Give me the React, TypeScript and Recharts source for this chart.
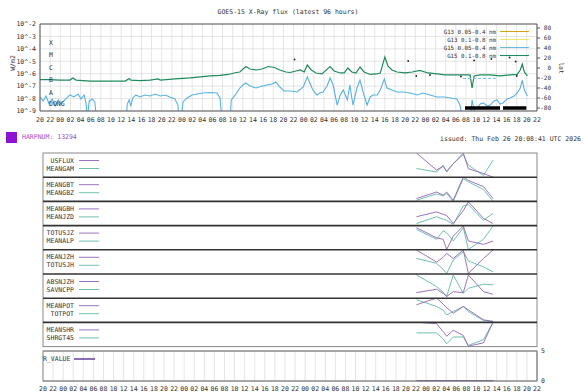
import React from 'react';
import { ComposedChart, LineChart, Line, Scatter, XAxis, YAxis, CartesianGrid } from 'recharts';

const MONO = '"DejaVu Sans Mono", monospace';
const TXT = '#333';

// ---------- shared time axis (hours since 20 UT, day 1) ----------
const xTickLabels = [
  '20', '22',
  '00', '02', '04', '06', '08', '10', '12', '14', '16', '18', '20', '22',
  '00', '02', '04', '06', '08', '10', '12', '14', '16', '18', '20', '22',
  '00', '02', '04', '06', '08', '10', '12', '14', '16', '18', '20', '22',
  '00', '02', '04', '06', '08', '10', '12', '14', '16', '18', '20', '22',
];
const evenTicks = xTickLabels.map((_, i) => i * 2);
const hourTicks = Array.from({ length: 99 }, (_, i) => i);

// ---------- GOES panel ----------
const fluxTicks = [-9, -8, -7, -6, -5, -4, -3, -2];
const fluxTickLabels = ['10^-9', '10^-8', '10^-7', '10^-6', '10^-5', '10^-4', '10^-3', '10^-2'];
const latTicks = [-80, -60, -40, -20, 0, 20, 40, 60, 80];

// G15 0.1-0.8 nm (log10 W/m2)
const longT = [0, 2.0, 3.9, 5.9, 6.5, 7.1, 9.9, 13.8, 16.8, 17.6, 17.9, 19.7, 21.7, 23.3, 23.7, 26.6, 29.6, 31.6, 33.5, 35.5, 37.1, 38.7, 39.4, 40.6, 41.4, 42.6, 43.8, 45.0, 46.2, 47.3, 48.5, 49.3, 50.5, 51.3, 52.1, 52.7, 53.5, 54.4, 55.6, 57.2, 58.0, 59.2, 60.0, 60.7, 61.5, 62.3, 63.1, 63.9, 65.1, 66.3, 67.1, 68.0, 68.6, 69.4, 70.4, 72.0, 73.4, 74.9, 76.5, 78.3, 79.9, 81.9, 83.8, 84.8, 85.2, 85.6, 86.8, 88.8, 90.7, 92.7, 94.1, 94.7, 95.1, 95.5, 96.1];
const longLog = [-6.47, -6.47, -6.51, -6.51, -6.34, -6.51, -6.59, -6.59, -6.59, -6.38, -6.51, -6.55, -6.51, -6.42, -6.51, -6.42, -6.34, -6.26, -6.18, -6.14, -6.06, -5.90, -5.86, -5.42, -5.62, -5.70, -5.62, -5.42, -5.50, -5.70, -5.86, -5.90, -5.78, -5.70, -5.86, -5.30, -5.70, -5.94, -6.02, -5.42, -5.78, -5.94, -5.94, -5.54, -5.86, -5.94, -5.46, -5.86, -6.06, -6.02, -5.94, -4.65, -5.38, -5.70, -5.86, -5.94, -5.86, -5.74, -5.94, -6.02, -6.10, -6.10, -6.10, -6.10, -7.15, -6.18, -6.10, -6.10, -6.18, -6.10, -6.06, -5.70, -5.22, -5.86, -6.18];

// G15 0.05-0.4 nm (log10 W/m2), -9.8 = below the axis
const shortT = [0, 0.6, 1.2, 1.8, 2.4, 3.0, 3.6, 4.1, 4.7, 5.3, 5.9, 6.7, 7.5, 8.1, 8.7, 9.1, 9.3, 9.7, 10.3, 10.8, 11.2, 17.0, 17.2, 17.6, 17.9, 18.3, 18.9, 19.7, 20.7, 21.7, 22.7, 23.7, 24.7, 25.6, 26.6, 27.2, 27.4, 27.8, 28.2, 29.0, 30.0, 31.0, 32.1, 33.5, 34.9, 35.5, 35.9, 37.5, 37.7, 38.5, 39.4, 40.0, 40.6, 41.4, 42.6, 43.8, 44.8, 45.8, 46.5, 47.3, 48.1, 49.3, 50.7, 51.9, 52.7, 53.3, 53.8, 54.6, 55.2, 55.8, 56.6, 57.2, 57.8, 58.6, 59.2, 59.8, 60.6, 61.1, 61.7, 62.5, 63.1, 63.7, 64.5, 65.1, 65.7, 66.5, 67.1, 67.9, 68.4, 69.4, 70.4, 71.6, 73.0, 74.4, 75.5, 76.9, 78.3, 79.7, 80.9, 82.2, 82.8, 83.4, 84.8, 85.2, 85.6, 86.2, 86.8, 87.4, 88.2, 88.8, 89.5, 90.1, 90.7, 91.3, 92.1, 92.7, 93.5, 94.1, 94.7, 95.1, 95.5, 96.1];
const shortLog = [-7.87, -8.19, -7.79, -8.44, -8.03, -8.60, -8.11, -8.44, -8.19, -7.95, -7.71, -7.87, -7.63, -8.03, -7.71, -8.44, -9.8, -8.19, -8.03, -8.27, -9.8, -9.8, -8.44, -8.11, -8.60, -7.95, -7.71, -7.87, -7.71, -7.79, -7.63, -7.79, -7.71, -7.87, -8.03, -8.52, -9.8, -9.8, -8.27, -7.95, -7.71, -7.63, -7.55, -7.51, -7.55, -7.95, -9.8, -9.8, -8.11, -7.71, -7.15, -6.91, -6.75, -6.99, -7.15, -6.99, -6.91, -6.83, -6.67, -7.07, -7.39, -7.39, -7.47, -7.07, -6.26, -6.83, -7.31, -7.71, -7.55, -7.47, -6.99, -6.34, -6.91, -8.52, -7.71, -7.31, -8.11, -6.91, -8.52, -7.15, -6.51, -7.47, -8.52, -7.87, -7.71, -7.71, -7.31, -6.42, -7.15, -7.31, -7.47, -7.47, -7.55, -7.71, -7.55, -7.71, -7.87, -7.87, -7.95, -8.03, -8.52, -9.8, -9.8, -8.11, -8.92, -8.76, -8.44, -8.35, -8.60, -8.52, -8.19, -8.11, -8.44, -8.35, -8.03, -7.95, -7.79, -7.55, -7.15, -6.51, -7.31, -7.79];

// flare latitude markers
const flareT = [50.2, 72.6, 74.2, 76.9, 83.0, 85.6, 89.0, 92.6, 93.8, 94.0];
const flareLat = [17, 14, -16, -14, -17, 15, 18, 21, 13, -16];
// light-blue dashed segment (lat)
const dashT = [83.4, 90.1];
const dashLat = [-21, -21];
// black bars at the bottom (lat)
const barT = [83.8, 90.7, 91.0, 91.3, 95.9];
const barLat: (number | null)[] = [-80, -80, null, -80, -80];

const classLetters = ['X', 'M', 'C', 'B', 'A', 'DONG'];
const classLevels = [-3.5, -4.5, -5.5, -6.5, -7.5, -8.4];

const goesLegend = ['G13 0.05-0.4 nm', 'G13 0.1-0.8 nm', 'G15 0.05-0.4 nm', 'G15 0.1-0.8 nm'];
const goesColors = ['#d6a21a', '#f2e36a', '#6bb8e2', '#1f8a5c'];

// ---------- SHARP parameter panels ----------
const panelT = [74.1, 78.1, 79.4, 80.1, 81.4, 83.4, 84.4, 87.4, 89.3];
const panelNamesA = ['USFLUX', 'MEANGBT', 'MEANGBH', 'TOTUSJZ', 'MEANJZH', 'ABSNJZH', 'MEANPOT', 'MEANSHR'];
const panelNamesB = ['MEANGAM', 'MEANGBZ', 'MEANJZD', 'MEANALP', 'TOTUSJH', 'SAVNCPP', 'TOTPOT', 'SHRGT45'];
const usflux = [1.0, 0.29, 0.45, 0.25, 0.55, 1.0, 0.35, 0.15, 0.0];
const meangam = [0.36, 0.21, 0.5, 0.21, 0.57, 0.93, 0.5, 0.07, 0.71];
const meangbt = [0.11, 0.38, 0.25, 0.38, 0.04, 1.0, 0.86, 0.6, 0.11];
const meangbz = [0.04, 0.3, 0.22, 0.32, 0.0, 0.93, 0.8, 0.48, 0.0];
const meangbh = [0.35, 0.55, 0.45, 0.4, 0.07, 0.6, 0.97, 0.28, 0.07];
const meanjzd = [0.07, 0.35, 0.25, 0.2, 0.03, 0.8, 0.85, 0.2, 0.49];
const totusjz = [0.93, 0.51, 0.45, 0.03, 0.58, 1.0, 0.38, 0.24, 0.38];
const meanalp = [0.86, 0.45, 0.8, 0.72, 0.38, 0.93, 0.03, 0.45, 1.0];
const meanjzh = [1.0, 0.5, 0.7, 0.86, 0.65, 1.0, 0.03, 0.65, 1.0];
const totusjh = [0.65, 0.45, 0.2, 0.03, 0.58, 0.93, 0.55, 0.3, 0.1];
const absnjzh = [0.23, 0.37, 0.2, 0.07, 0.27, 0.23, 0.96, 0.27, 0.16];
const savncpp = [0.96, 0.48, 0.25, 0.07, 0.96, 0.2, 0.41, 0.58, 0.55];
const meanpot = [0.72, 1.0, 0.75, 0.6, 0.37, 0.65, 0.51, 0.1, 0.03];
const totpot = [0.93, 0.65, 0.5, 0.3, 0.44, 0.65, 0.44, 0.07, 0.03];
const meanshr = [0.99, 0.93, 0.6, 0.41, 0.66, 0.44, 0.0, 0.14, 0.99];
const shrgt45 = [0.55, 0.55, 0.3, 0.1, 0.38, 0.38, 0.03, 0.27, 0.99];
const rValue = [0.06, 0.06, 0.06, 0.06, 0.06, 0.06, 0.06, 0.06, 0.06];
const rTicks = [0, 5];

const seriesA = [usflux, meangbt, meangbh, totusjz, meanjzh, absnjzh, meanpot, meanshr];
const seriesB = [meangam, meangbz, meanjzd, meanalp, totusjh, savncpp, totpot, shrgt45];

const PURPLE = '#9263b8';
const TEAL = '#5fbaa6';
const RCOL = '#4d1f8c';

// ---------- built tables ----------
const longData = longT.map((t, i) => ({ t, v: longLog[i] }));
const shortData = shortT.map((t, i) => ({ t, v: shortLog[i] }));
const flareData = flareT.map((t, i) => ({ t, lat: flareLat[i] }));
const dashData = dashT.map((t, i) => ({ t, lat: dashLat[i] }));
const barData = barT.map((t, i) => ({ t, lat: barLat[i] }));
const panelRows = seriesA.map((a, k) => panelT.map((t, i) => ({ t, a: a[i], b: seriesB[k][i] })));
const rRows = panelT.map((t, i) => ({ t, r: rValue[i] }));

// layout
const PANEL_TOP = 153;
const PANEL_H = 24.2;
const PL = 43;
const PR = 537;

const tickStyle = { fontSize: 6.5, fontFamily: MONO, fill: TXT };

const LatTick = (props: any) => (
  <text x={props.x + 11} y={props.y} dy="0.35em" textAnchor="end" fontSize={6} fontFamily={MONO} fill={TXT}>
    {props.payload.value}
  </text>
);

const FlareDot = (props: any) => <circle cx={props.cx} cy={props.cy} r={0.9} fill="#222" />;

const abs = (top: number): React.CSSProperties => ({ position: 'absolute', left: 0, top });

export default function App() {
  return (
    <div style={{ position: 'absolute', left: 0, top: 0, width: 588, height: 392, background: '#fff', overflow: 'hidden' }}>
      {/* GOES X-ray flux */}
      <div style={abs(0)}>
        <ComposedChart width={588} height={130} margin={{ top: 24, right: 11, bottom: 4, left: 10 }}>
          <CartesianGrid xAxisId="b" yAxisId="flux" stroke="#d9d9d9" strokeWidth={0.7} />
          <XAxis xAxisId="b" dataKey="t" type="number" domain={[0, 98]} ticks={evenTicks} interval={0}
            tickFormatter={(v: number) => xTickLabels[Math.round(v / 2)]} height={15} tickLine={false}
            tickSize={5} tickMargin={1} axisLine={{ stroke: '#555' }} tick={tickStyle} allowDataOverflow />
          <XAxis xAxisId="t" orientation="top" mirror dataKey="t" type="number" domain={[0, 98]} ticks={hourTicks}
            interval={0} tick={false} tickSize={2.5} axisLine={{ stroke: '#555' }} tickLine={{ stroke: '#555' }} />
          <XAxis xAxisId="m" orientation="bottom" mirror dataKey="t" type="number" domain={[0, 98]} ticks={hourTicks}
            interval={0} tick={false} tickSize={2.5} axisLine={false} tickLine={{ stroke: '#555' }} />
          <YAxis yAxisId="flux" type="number" domain={[-9, -2]} ticks={fluxTicks} interval={0} allowDataOverflow
            width={30} tickLine={false} tickSize={2} tickMargin={2} axisLine={{ stroke: '#555' }}
            tickFormatter={(v: number) => fluxTickLabels[fluxTicks.indexOf(v)]} tick={tickStyle} />
          <YAxis yAxisId="lat" orientation="right" type="number" domain={[-86, 88]} ticks={latTicks} interval={0}
            width={40} tickSize={3} tickMargin={0} axisLine={{ stroke: '#555' }} tickLine={{ stroke: '#555' }} tick={<LatTick />} />
          <Line xAxisId="b" yAxisId="flux" data={shortData} dataKey="v" stroke="#58b2e3" strokeWidth={1.1}
            dot={false} isAnimationActive={false} />
          <Line xAxisId="b" yAxisId="flux" data={longData} dataKey="v" stroke="#1f8a5c" strokeWidth={1.2}
            dot={false} isAnimationActive={false} />
          <Line xAxisId="b" yAxisId="lat" data={dashData} dataKey="lat" stroke="#7cc0ea" strokeWidth={1}
            strokeDasharray="3 2" dot={false} isAnimationActive={false} />
          <Line xAxisId="b" yAxisId="lat" data={barData} dataKey="lat" stroke="#000" strokeWidth={3.5}
            dot={false} isAnimationActive={false} />
          <Scatter xAxisId="b" yAxisId="lat" data={flareData} dataKey="lat" shape={<FlareDot />} isAnimationActive={false} />
        </ComposedChart>
      </div>

      {/* SHARP panels */}
      {panelRows.map((rows, k) => (
        <div key={k} style={abs(PANEL_TOP + k * PANEL_H)}>
          <LineChart width={588} height={PANEL_H} data={rows} margin={{ top: 0, right: 588 - PR, bottom: 0, left: PL }}>
            <XAxis dataKey="t" type="number" domain={[0, 98]} hide />
            <YAxis type="number" domain={[0, 1]} hide />
            <Line dataKey="b" stroke={TEAL} strokeWidth={0.9} dot={false} isAnimationActive={false} />
            <Line dataKey="a" stroke={PURPLE} strokeWidth={0.9} dot={false} isAnimationActive={false} />
          </LineChart>
        </div>
      ))}

      {/* R_VALUE */}
      <div style={abs(340)}>
        <ComposedChart width={588} height={52} margin={{ top: 11, right: 11, bottom: 0, left: PL }}>
          <CartesianGrid xAxisId="b" yAxisId="r" horizontal={false} stroke="#d9d9d9" strokeWidth={0.7} />
          <XAxis xAxisId="b" dataKey="t" type="number" domain={[0, 98]} ticks={evenTicks} interval={0}
            tickFormatter={(v: number) => xTickLabels[Math.round(v / 2)]} height={11} tickLine={false}
            tickSize={3} tickMargin={2} axisLine={{ stroke: '#888' }} tick={tickStyle} />
          <XAxis xAxisId="t" orientation="top" mirror dataKey="t" type="number" domain={[0, 98]} ticks={hourTicks}
            interval={0} tick={false} tickSize={2.5} axisLine={{ stroke: '#888' }} tickLine={{ stroke: '#666' }} />
          <XAxis xAxisId="m" orientation="bottom" mirror dataKey="t" type="number" domain={[0, 98]} ticks={hourTicks}
            interval={0} tick={false} tickSize={2.5} axisLine={false} tickLine={{ stroke: '#666' }} />
          <YAxis yAxisId="r" orientation="right" type="number" domain={[0, 5]} ticks={rTicks} interval={0}
            width={40} tickLine={false} tickSize={2} tickMargin={2} axisLine={{ stroke: '#888' }}
            tick={{ fontSize: 6.5, fontFamily: MONO, fill: TXT }} />
          <Line xAxisId="b" yAxisId="r" data={rRows} dataKey="r" stroke={RCOL} strokeWidth={1.3}
            dot={false} isAnimationActive={false} />
        </ComposedChart>
      </div>

      {/* text, legends and frames */}
      <svg width={588} height={392} style={{ position: 'absolute', left: 0, top: 0, pointerEvents: 'none' }}>
        <g fontFamily={MONO} fill={TXT}>
          <text x={288} y={13.5} fontSize={6.5} textAnchor="middle">GOES-15 X-Ray flux (latest 96 hours)</text>
          <text transform="translate(14.5,63) rotate(-90)" fontSize={6.5} textAnchor="middle">W/m2</text>
          <text transform="translate(558.5,68) rotate(90)" fontSize={6.5} textAnchor="middle">lat</text>
          {classLetters.map((c, i) => (
            <text key={c} x={49} y={24 + (-2 - classLevels[i]) * 12.43 + 2.3} fontSize={6.5}>{c}</text>
          ))}
          {goesLegend.map((s, i) => (
            <g key={s}>
              <text x={496} y={33.5 + i * 8} fontSize={5.8} textAnchor="end">{s}</text>
              <line x1={500} x2={529} y1={31.5 + i * 8} y2={31.5 + i * 8} stroke={goesColors[i]} strokeWidth={1.1} />
            </g>
          ))}
          <rect x={6} y={132} width={11} height={11} fill="#8e12d4" />
          <text x={22} y={138.5} fontSize={6.5} fill="#9a4fc6">HARPNUM: 13294</text>
          <text x={581} y={140.5} fontSize={6.5} textAnchor="end">issued: Thu Feb 26 20:08:41 UTC 2026</text>

          <rect x={PL} y={PANEL_TOP} width={PR - PL} height={PANEL_H * 8} fill="none" stroke="#8a8a8a" strokeWidth={1} />
          {panelNamesA.slice(1).map((_, k) => (
            <line key={k} x1={PL} x2={PR} y1={PANEL_TOP + (k + 1) * PANEL_H} y2={PANEL_TOP + (k + 1) * PANEL_H}
              stroke="#333" strokeWidth={1.6} />
          ))}
          {panelNamesA.map((n, k) => (
            <g key={n}>
              <text x={74} y={PANEL_TOP + k * PANEL_H + 9.5} fontSize={6.5} textAnchor="end">{n}</text>
              <line x1={79} x2={99} y1={PANEL_TOP + k * PANEL_H + 7.5} y2={PANEL_TOP + k * PANEL_H + 7.5} stroke={PURPLE} strokeWidth={0.9} />
              <text x={74} y={PANEL_TOP + k * PANEL_H + 17.5} fontSize={6.5} textAnchor="end">{panelNamesB[k]}</text>
              <line x1={79} x2={99} y1={PANEL_TOP + k * PANEL_H + 15.5} y2={PANEL_TOP + k * PANEL_H + 15.5} stroke={TEAL} strokeWidth={0.9} />
            </g>
          ))}

          <rect x={PL} y={351} width={PR - PL} height={30} fill="none" stroke="#8a8a8a" strokeWidth={1} />
          <text x={43} y={361} fontSize={6.5}>R_VALUE</text>
          <line x1={74} x2={95} y1={359} y2={359} stroke={RCOL} strokeWidth={1.3} />
        </g>
      </svg>
    </div>
  );
}
